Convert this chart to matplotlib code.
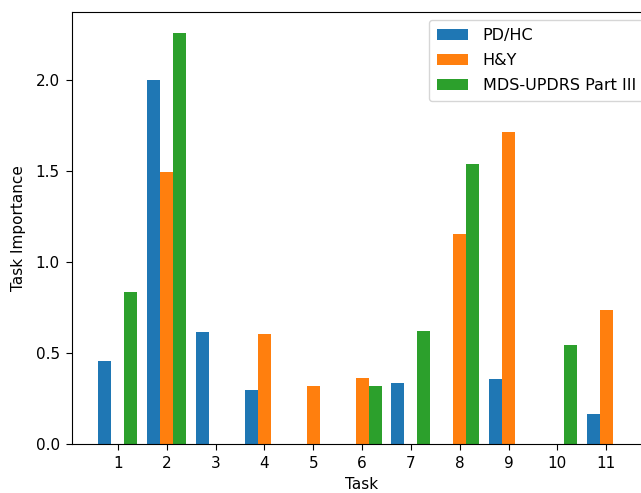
import matplotlib
matplotlib.use("Agg")
import matplotlib.pyplot as plt
import numpy as np

tasks = [1, 2, 3, 4, 5, 6, 7, 8, 9, 10, 11]
pd_hc = [0.456, 2.00, 0.617, 0.295, 0.0, 0.0, 0.333, 0.0, 0.359, 0.0, 0.167]
hy = [0.0, 1.496, 0.0, 0.603, 0.32, 0.364, 0.0, 1.154, 1.713, 0.0, 0.736]
updrs = [0.833, 2.26, 0.0, 0.0, 0.0, 0.32, 0.623, 1.54, 0.0, 0.544, 0.0]
labels = ["PD/HC", "H&Y", "MDS-UPDRS Part III"]

fig = plt.figure(figsize=(6.41, 4.93), dpi=100)
ax = fig.add_axes([0.1123, 0.0994, 0.905, 0.876])

x = np.array(tasks)
w = 0.267
ax.bar(x - w, pd_hc, w, color="#1f77b4", label=labels[0])
ax.bar(x, hy, w, color="#ff7f0e", label=labels[1])
ax.bar(x + w, updrs, w, color="#2ca02c", label=labels[2])

ax.set_xticks(x)
ax.set_xticklabels([str(t) for t in tasks])
ax.tick_params(labelsize=11, length=4.3, pad=4.5)
ax.set_xlabel("Task", fontsize=11, labelpad=4.5)
ax.set_ylabel("Task Importance", fontsize=11, labelpad=7)
ax.legend(loc="upper right", fontsize=11.5, labelspacing=0.62,
          borderpad=0.5, handletextpad=0.9)

fig.savefig("out.png", dpi=100)
